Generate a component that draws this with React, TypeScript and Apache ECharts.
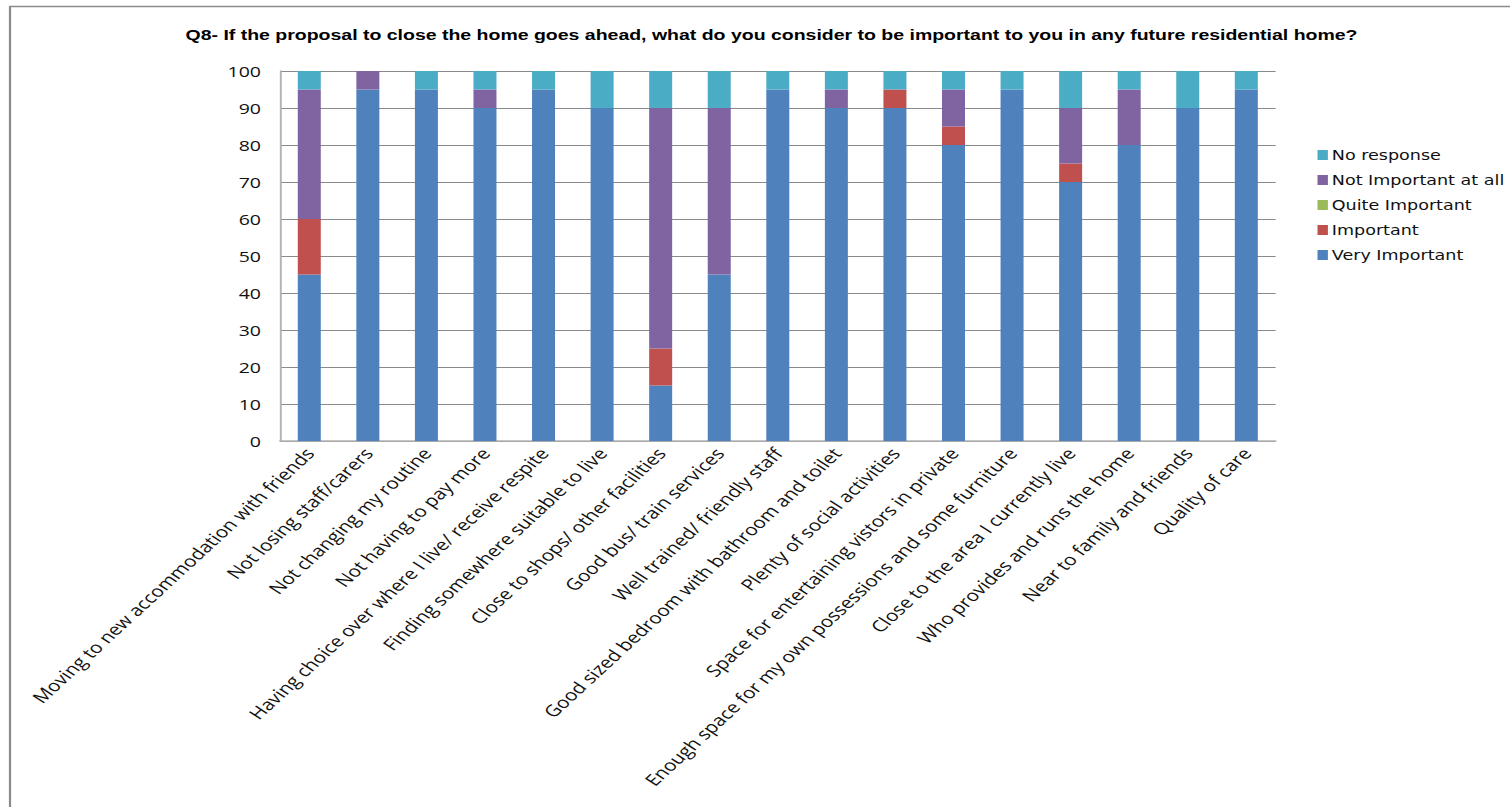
import React, { useEffect, useRef } from "react";
import * as echarts from "echarts";

const categories = [
  "Moving to new accommodation with friends",
  "Not losing staff/carers",
  "Not changing my routine",
  "Not having to pay more",
  "Having choice over where I live/ receive respite",
  "Finding somewhere suitable to live",
  "Close to shops/ other facilities",
  "Good bus/ train services",
  "Well trained/ friendly staff",
  "Good sized bedroom with bathroom and toilet",
  "Plenty of social activities",
  "Space for entertaining vistors in private",
  "Enough space for my own possessions and some furniture",
  "Close to the area I currently live",
  "Who provides and runs the home",
  "Near to family and friends",
  "Quality of care",
];

const veryImportant = [45, 95, 95, 90, 95, 90, 15, 45, 95, 90, 90, 80, 95, 70, 80, 90, 95];
const important = [15, 0, 0, 0, 0, 0, 10, 0, 0, 0, 5, 5, 0, 5, 0, 0, 0];
const quiteImportant = [0, 0, 0, 0, 0, 0, 0, 0, 0, 0, 0, 0, 0, 0, 0, 0, 0];
const notImportant = [35, 5, 0, 5, 0, 0, 65, 45, 0, 5, 0, 10, 0, 15, 15, 0, 0];
const noResponse = [5, 0, 5, 5, 5, 10, 10, 10, 5, 5, 5, 5, 5, 10, 5, 10, 5];

const seriesNames = ["Very Important", "Important", "Quite Important", "Not Important at all", "No response"];
const seriesColors = ["#4F81BD", "#C0504D", "#9BBB59", "#8064A2", "#4BACC6"];
const seriesData = [veryImportant, important, quiteImportant, notImportant, noResponse];
const legendOrder = ["No response", "Not Important at all", "Quite Important", "Important", "Very Important"];

const TITLE =
  "Q8- If the proposal to close the home goes ahead, what do you consider to be important to you in any future residential home?";

const SX = 1.3; // horizontal stretch of the whole picture
const W = 1510 / SX;
const H = 807;

export default function App() {
  const ref = useRef<HTMLDivElement>(null);
  useEffect(() => {
    if (!ref.current) return;
    const chart = echarts.init(ref.current, null, { renderer: "svg" });
    chart.setOption({
      animation: false,
      backgroundColor: "#ffffff",
      title: {
        text: TITLE,
        left: 765 / SX,
        textAlign: "center",
        top: 22,
        textStyle: { fontFamily: "Liberation Sans", fontWeight: "bold", fontSize: 15, color: "#000" },
      },
      legend: {
        orient: "vertical",
        left: 1311 / SX,
        top: 143,
        itemWidth: 8,
        itemHeight: 10,
        itemGap: 11,
        icon: "rect",
        data: legendOrder,
        textStyle: { fontFamily: "DejaVu Sans", fontSize: 13.5, color: "#111", padding: [0, 0, 0, -2] },
      },
      grid: { left: 280 / SX, right: W - 1275 / SX, top: 71, bottom: H - 441, containLabel: false },
      xAxis: {
        type: "category",
        data: categories,
        axisLine: { show: true, lineStyle: { color: "#b3b3b3", width: 1.5 } },
        axisTick: { show: false },
        axisLabel: {
          interval: 0,
          rotate: 50,
          margin: 9,
          fontFamily: "Open Sans",
          fontSize: 16,
          color: "#111",
        },
      },
      yAxis: {
        type: "value",
        min: 0,
        max: 100,
        interval: 10,
        axisLine: { show: true, lineStyle: { color: "#b3b3b3", width: 1.5 } },
        axisTick: { show: false },
        splitLine: { show: true, lineStyle: { color: "#8a8a8a", width: 1 } },
        axisLabel: {
          margin: 19 / SX,
          fontFamily: "Open Sans",
          fontSize: 15,
          color: "#111",
        },
      },
      series: seriesNames.map((name, i) => ({
        name,
        type: "bar",
        stack: "total",
        barWidth: 23 / SX,
        itemStyle: { color: seriesColors[i] },
        data: seriesData[i],
      })),
      graphic: [
        {
          type: "rect",
          shape: { x: 10 / SX, y: 6.5, width: 1600, height: 900 },
          style: { fill: "none", stroke: "#8a8a8a", lineWidth: 1.7 },
          silent: true,
        },
      ],
    });
    return () => chart.dispose();
  }, []);
  return (
    <div style={{ position: "fixed", left: 0, top: 0, width: 1510, height: H, overflow: "hidden", background: "#fff" }}>
      <div
        ref={ref}
        style={{ width: W, height: H, transform: `scaleX(${SX})`, transformOrigin: "0 0" }}
      />
    </div>
  );
}
